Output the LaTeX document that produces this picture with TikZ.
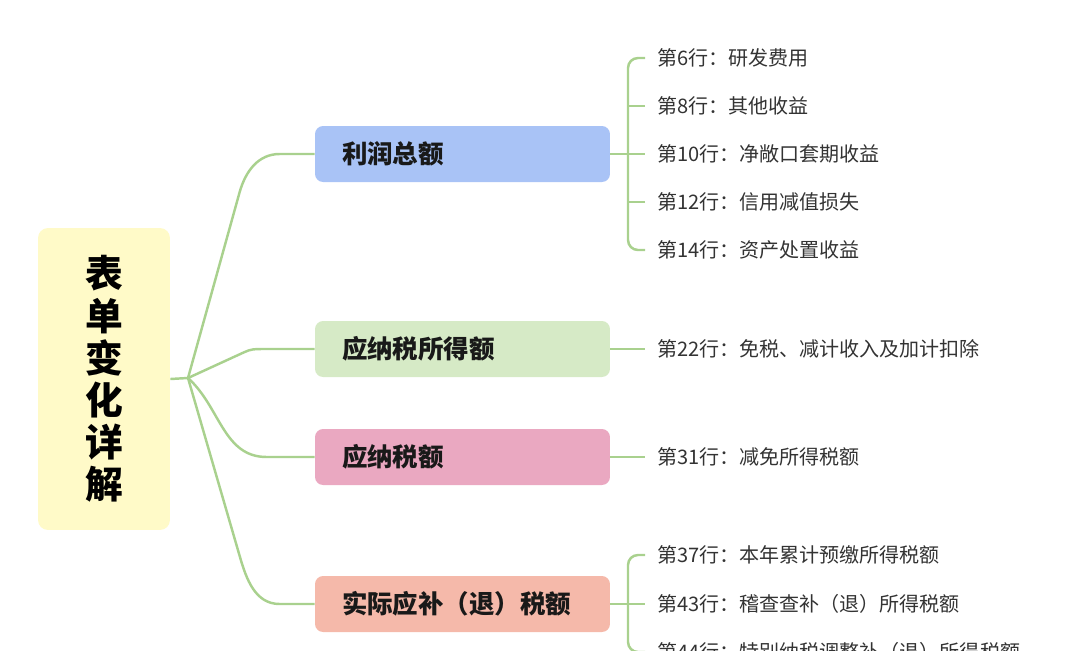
\documentclass[tikz,border=0pt]{standalone}
\usepackage{fontspec}
\setmainfont{Noto Sans CJK SC}
\usetikzlibrary{positioning,calc}

\definecolor{linkgreen}{HTML}{A9D18E}
\definecolor{rootyellow}{HTML}{FFFAC8}
\definecolor{profitblue}{HTML}{A9C3F6}
\definecolor{incomegreen}{HTML}{D6EAC6}
\definecolor{taxpink}{HTML}{EAA8C1}
\definecolor{refundsalmon}{HTML}{F5B9AA}

\begin{document}
\begin{tikzpicture}[x=0.02cm, y=-0.02cm,
  link/.style={draw=linkgreen, line width=1.4pt},
  branch/.style={rounded corners=0.16cm, minimum height=1.12cm, text width=4.82cm, inner xsep=0.54cm, align=left, text=black!90, font=\fontsize{14.5}{16}\selectfont\bfseries},
  leaf/.style={anchor=west, inner sep=0pt, text=black!80, font=\fontsize{11.4}{13}\selectfont}]
  \useasboundingbox (0,0) rectangle (1076,650);
  \clip (0,0) rectangle (1076,650);

  % root
  \node[fill=rootyellow, rounded corners=0.2cm, minimum width=2.64cm, minimum height=6.04cm, align=center, font=\fontsize{21.5}{24}\selectfont\bfseries] (root) at (104,379) {表\\单\\变\\化\\详\\解};
  \coordinate (hub) at (188,378);

  % branches
  \node[branch, fill=profitblue] (b1) at (462.5,154) {利润总额};
  \node[branch, fill=incomegreen] (b2) at (462.5,349) {应纳税所得额};
  \node[branch, fill=taxpink] (b3) at (462.5,457) {应纳税额};
  \node[branch, fill=refundsalmon] (b4) at (462.5,604) {实际应补（退）税额};

  % leaves
  \node[leaf] (l6) at (657,58) {第6行：研发费用};
  \node[leaf] (l8) at (657,106) {第8行：其他收益};
  \node[leaf] (l10) at (657,154) {第10行：净敞口套期收益};
  \node[leaf] (l12) at (657,202) {第12行：信用减值损失};
  \node[leaf] (l14) at (657,250) {第14行：资产处置收益};
  \node[leaf] (l22) at (657,349) {第22行：免税、减计收入及加计扣除};
  \node[leaf] (l31) at (657,457) {第31行：减免所得税额};
  \node[leaf] (l37) at (657,555) {第37行：本年累计预缴所得税额};
  \node[leaf] (l43) at (657,604) {第43行：稽查查补（退）所得税额};
  \node[leaf] (l44) at (657,652) {第44行：特别纳税调整补（退）所得税额};

  % root to branches
  \draw[link] (root.east) -- (hub);
  \draw[link] (hub) -- ($(b1.west)+(-75,38)$) to[out=74, in=180] ($(b1.west)+(-35,0)$) -- (b1.west);
  \draw[link] (hub) -- ($(b2.west)+(-70,3)$) to[out=25, in=180] ($(b2.west)+(-53,0)$) -- (b2.west);
  \draw[link] (hub) to[out=-42, in=180] ($(b3.west)+(-48,0)$) -- (b3.west);
  \draw[link] (hub) -- ($(b4.west)+(-75,-48)$) to[out=-74, in=180] ($(b4.west)+(-35,0)$) -- (b4.west);

  % branches to leaves
  \draw[link, rounded corners=0.2cm] ($(l6.west)+(-12,0)$) -- ++(-17,0) |- ($(l14.west)+(-12,0)$);
  \draw[link] ($(l8.west)+(-12,0)$) -- ++(-17,0);
  \draw[link] ($(l12.west)+(-12,0)$) -- ++(-17,0);
  \draw[link] (b1.east) -- ($(l10.west)+(-12,0)$);
  \draw[link] (b2.east) -- ($(l22.west)+(-12,0)$);
  \draw[link] (b3.east) -- ($(l31.west)+(-12,0)$);
  \draw[link, rounded corners=0.2cm] ($(l37.west)+(-12,0)$) -- ++(-17,0) |- ($(l44.west)+(-12,0)$);
  \draw[link] (b4.east) -- ($(l43.west)+(-12,0)$);
\end{tikzpicture}
\end{document}
